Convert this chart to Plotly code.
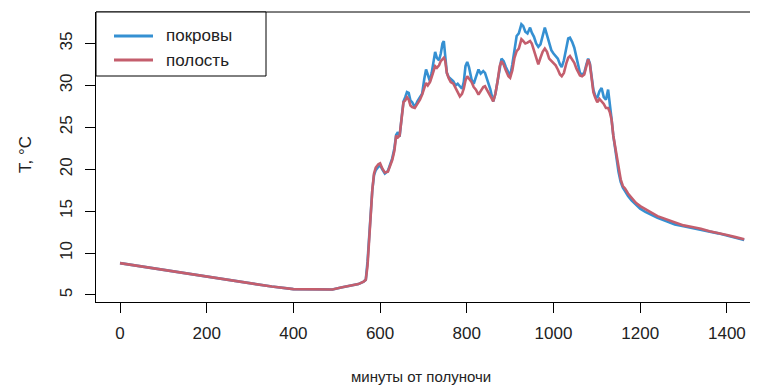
import plotly.graph_objects as go

minutes = [0, 50, 100, 150, 200, 250, 300, 350, 400, 450, 490, 510, 530, 550, 562, 567,
           571, 575, 578, 582, 586, 590, 596, 600, 605, 611, 618, 623, 628, 633, 637, 641,
           645, 650, 654, 658, 662, 666, 670, 674, 680, 686, 692, 697, 702, 706, 710, 715,
           719, 723, 727, 731, 736, 740, 744, 747, 750, 754, 758, 763, 769, 774, 779, 784,
           789, 793, 797, 801, 805, 811, 816, 821, 827, 832, 838, 842, 848, 854, 858, 861,
           866, 871, 876, 880, 885, 890, 896, 900, 905, 910, 915, 920, 926, 930, 935, 940,
           946, 950, 955, 960, 965, 970, 975, 980, 985, 990, 995, 1000, 1005, 1010, 1015, 1019,
           1024, 1030, 1034, 1038, 1043, 1048, 1053, 1057, 1061, 1066, 1071, 1076, 1080, 1084, 1088, 1092,
           1096, 1101, 1106, 1111, 1116, 1121, 1126, 1130, 1134, 1138, 1142, 1146, 1150, 1155, 1160, 1165,
           1172, 1180, 1190, 1200, 1212, 1223, 1240, 1261, 1280, 1300, 1320, 1340, 1360, 1380, 1400, 1420,
           1440]

pokrovy = [8.8, 8.4, 8.0, 7.6, 7.25, 6.85, 6.4, 6.0, 5.7, 5.65, 5.65, 5.9, 6.1, 6.3, 6.6, 6.8,
           9.0, 12.5, 15.0, 17.5, 19.3, 19.9, 20.3, 20.5, 20.0, 19.5, 19.8, 20.5, 21.3, 22.5, 24.1, 24.4,
           23.9, 26.3, 28.1, 28.6, 29.2, 29.1, 28.2, 28.0, 27.4, 28.1, 28.6, 29.0, 30.8, 31.9, 31.3, 30.5,
           31.5, 32.8, 34.0, 33.3, 33.0, 33.8, 35.0, 35.3, 33.5, 31.5, 31.0, 30.8, 30.5, 30.0, 30.2, 29.9,
           29.6, 30.4, 32.3, 32.8, 32.2, 30.7, 30.2, 31.0, 31.9, 31.4, 31.7, 31.5, 30.6, 29.6, 28.7, 28.1,
           29.0, 30.3, 32.0, 33.2, 32.9, 32.2, 31.5, 31.1, 32.5, 34.5, 35.9, 36.2, 37.3, 37.1, 36.4, 36.2,
           36.9, 36.3, 35.8, 35.0, 34.6, 34.9, 35.9, 36.9, 36.0, 35.0, 34.2, 33.8, 33.5, 33.2, 32.5, 32.2,
           33.0, 34.5, 35.6, 35.7, 35.2, 34.5, 33.4, 32.5, 31.5, 31.3, 31.5, 32.5, 33.2, 32.6, 30.8, 29.5,
           28.8, 28.5, 29.3, 29.7, 28.6, 28.3, 29.5, 28.0, 26.0, 24.0, 22.5, 21.0, 19.7, 18.5, 17.8, 17.4,
           16.8, 16.3, 15.8, 15.3, 14.9, 14.6, 14.2, 13.8, 13.4, 13.2, 13.0, 12.8, 12.6, 12.35, 12.1, 11.85,
           11.55]

polost = [8.8, 8.4, 8.0, 7.6, 7.25, 6.85, 6.4, 6.0, 5.7, 5.65, 5.65, 5.9, 6.1, 6.3, 6.6, 6.8,
          8.5, 12.0, 15.0, 17.5, 19.5, 20.2, 20.6, 20.7, 20.1, 19.6, 19.7, 20.4, 21.1, 22.2, 24.0, 23.8,
          24.0, 26.2, 28.0, 28.2, 28.6, 28.3, 27.6, 27.4, 27.3, 27.8, 28.3, 28.9, 29.8, 30.3, 30.0, 30.4,
          31.0, 31.6, 32.3, 32.1, 32.4, 32.9, 33.2, 33.3, 33.0, 31.5, 30.9, 30.4, 30.2, 29.6, 29.2, 28.7,
          29.0, 29.6, 30.6, 31.1, 30.8, 30.4, 29.8, 29.5, 28.9, 29.3, 29.8, 29.9, 29.4, 28.9, 28.4, 28.1,
          29.0, 30.5, 32.3, 32.9, 32.5, 31.8, 31.1, 30.9, 31.8, 33.3, 34.1, 34.4, 35.5, 35.3, 35.0, 35.1,
          35.3, 35.0, 34.2, 33.2, 32.5, 33.3, 34.0, 34.4, 34.0, 33.2, 32.9, 32.7, 32.4, 31.9, 31.3, 31.1,
          31.5, 32.7, 33.3, 33.5, 33.1, 32.7, 32.0, 31.5, 31.2, 31.1, 31.3, 32.3, 33.1, 32.5, 30.6, 29.2,
          28.6, 28.0, 28.4, 28.1, 27.8, 27.3, 27.3, 26.8, 25.9, 24.0, 22.7, 21.2, 19.9, 18.8, 18.0, 17.7,
          17.1, 16.6, 16.0, 15.6, 15.2, 14.9, 14.4, 14.0, 13.6, 13.3, 13.1, 12.9, 12.6, 12.4, 12.15, 11.9,
          11.65]

x_ticks = [0, 200, 400, 600, 800, 1000, 1200, 1400]
y_ticks = [5, 10, 15, 20, 25, 30, 35]
series_names = ["покровы", "полость"]

FONT = "Liberation Sans, Arial, sans-serif"
BLUE = "#3590D2"
RED = "#C45E6D"
colors = [BLUE, RED]

# page body has an 8px margin: work in page pixels, convert to figure pixels
OFF = 8
W, H = 758 - OFF, 387 - OFF
BOX_L, BOX_T, BOX_B = 96, 12, 302          # page px of plot box
ML, MT = BOX_L - OFF, BOX_T - OFF
MB = H - (BOX_B - OFF)
MR = 0
PW, PH = W - ML - MR, H - MT - MB


def px_x(p):
    return (p - OFF - ML) / PW


def px_y(p):
    return 1 - (p - OFF - MT) / PH


fig = go.Figure()
for name, vals, c in zip(series_names, [pokrovy, polost], colors):
    fig.add_trace(go.Scatter(x=minutes, y=vals, mode="lines", name=name,
                             line=dict(color=c, width=2.6), showlegend=False))

shapes = [
    dict(type="line", xref="paper", yref="paper", x0=0, x1=1, y0=1, y1=1,
         line=dict(color="black", width=1)),
    dict(type="rect", xref="paper", yref="paper", x0=0, x1=px_x(266), y0=px_y(76), y1=1,
         line=dict(color="black", width=1), fillcolor="white", layer="above"),
]
annotations = [
    dict(text="минуты от полуночи", xref="paper", yref="paper", x=px_x(421), y=px_y(376),
         showarrow=False, font=dict(size=15), yanchor="middle", xanchor="center"),
    dict(text="T, °C", xref="paper", yref="paper", x=px_x(25), y=px_y(155),
         showarrow=False, textangle=-90, font=dict(size=17), xanchor="center", yanchor="middle"),
]
for i, (name, c) in enumerate(zip(series_names, colors)):
    yy = 36 + 24 * i
    shapes.append(dict(type="line", xref="paper", yref="paper", x0=px_x(114), x1=px_x(153),
                       y0=px_y(yy), y1=px_y(yy), line=dict(color=c, width=3), layer="above"))
    annotations.append(dict(text=name, xref="paper", yref="paper", x=px_x(164), y=px_y(yy),
                            showarrow=False, xanchor="left", yanchor="middle",
                            font=dict(size=17, color="#222222")))

fig.update_layout(
    width=W, height=H,
    margin=dict(l=ML, r=MR, t=MT, b=MB, autoexpand=False),
    paper_bgcolor="white", plot_bgcolor="white",
    font=dict(family=FONT, size=17, color="#222222"),
    showlegend=False,
    xaxis=dict(range=[-55.4, 1471.8], tickvals=x_ticks, ticks="outside", ticklen=10,
               tickcolor="black", showline=True, linecolor="black", linewidth=1,
               showgrid=False, zeroline=False, ticklabelstandoff=6, automargin=False),
    yaxis=dict(range=[4.16, 38.76], tickvals=y_ticks, ticks="outside", ticklen=10,
               tickcolor="black", showline=True, linecolor="black", linewidth=1,
               showgrid=False, zeroline=False, tickangle=-90, ticklabelstandoff=6,
               automargin=False),
    shapes=shapes,
    annotations=annotations,
)
fig.write_html("out.html")
